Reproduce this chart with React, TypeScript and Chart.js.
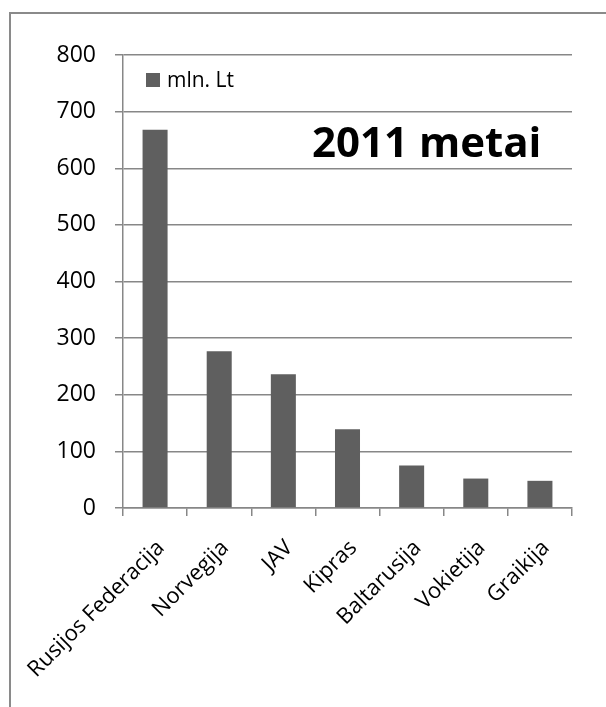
import React, { useEffect, useRef } from "react";
import { Chart, registerables } from "chart.js";

Chart.register(...registerables);

const categories = [
  "Rusijos Federacija",
  "Norvegija",
  "JAV",
  "Kipras",
  "Baltarusija",
  "Vokietija",
  "Graikija",
];
const values = [668, 277, 236, 139, 75, 52, 48];
const seriesLabel = "mln. Lt";
const chartTitle = "2011 metai";
const yMin = 0;
const yMax = 800;
const yStep = 100;

const FONT = "'Open Sans', sans-serif";
const GRID = "#878787";
const BAR = "#5f5f5f";

const overlayPlugin = {
  id: "overlay",
  beforeDraw(chart: any) {
    const ctx = chart.ctx;
    ctx.save();
    ctx.fillStyle = "#ffffff";
    ctx.fillRect(0, 0, chart.width, chart.height);
    ctx.strokeStyle = "#8a8a8a";
    ctx.lineWidth = 2;
    ctx.beginPath();
    ctx.moveTo(10, chart.height + 5);
    ctx.lineTo(10, 13);
    ctx.lineTo(chart.width + 5, 13);
    ctx.stroke();
    ctx.restore();
  },
  afterDraw(chart: any) {
    const ctx = chart.ctx;
    const area = chart.chartArea;
    ctx.save();
    // legend
    const lx = area.left + 23;
    const ly = area.top + 25;
    ctx.fillStyle = BAR;
    ctx.fillRect(lx, ly - 7, 14, 14);
    ctx.fillStyle = "#000000";
    ctx.font = `21px ${FONT}`;
    ctx.textBaseline = "middle";
    ctx.textAlign = "left";
    ctx.fillText(chart.data.datasets[0].label, lx + 21, ly + 1);
    // title
    ctx.font = `bold 42px ${FONT}`;
    ctx.textAlign = "left";
    ctx.textBaseline = "alphabetic";
    ctx.fillText(chartTitle, 312, 157);
    ctx.restore();
  },
};

export default function App() {
  const ref = useRef<HTMLCanvasElement>(null);
  useEffect(() => {
    if (!ref.current) return;
    const chart = new Chart(ref.current, {
      type: "bar",
      data: {
        labels: categories,
        datasets: [
          {
            label: seriesLabel,
            data: values,
            backgroundColor: BAR,
            borderWidth: 0,
            barPercentage: 0.39,
            categoryPercentage: 1,
          },
        ],
      },
      plugins: [overlayPlugin],
      options: {
        responsive: false,
        animation: false,
        layout: { padding: { left: 0, top: 55, right: 34, bottom: 0 } },
        plugins: {
          legend: { display: false },
          title: { display: false },
          tooltip: { enabled: false },
        },
        scales: {
          x: {
            afterFit(scale: any) {
              scale.height = 199;
              scale.paddingLeft = 0;
              scale.paddingRight = 0;
            },
            grid: {
              display: true,
              drawOnChartArea: false,
              drawTicks: true,
              tickLength: 8,
              color: GRID,
              lineWidth: 1.5,
              offset: true,
            },
            border: { display: true, color: GRID, width: 1.5 },
            ticks: {
              color: "#000000",
              font: { family: FONT, size: 22 },
              maxRotation: 45,
              minRotation: 45,
              autoSkip: false,
              padding: 19,
              labelOffset: 6,
            },
          },
          y: {
            min: yMin,
            max: yMax,
            afterFit(scale: any) {
              scale.width = 123;
              scale.paddingTop = 0;
              scale.paddingBottom = 0;
            },
            grid: {
              color: GRID,
              lineWidth: 1.5,
              drawTicks: true,
              tickLength: 8,
            },
            border: { display: true, color: GRID, width: 1.5 },
            ticks: {
              stepSize: yStep,
              color: "#000000",
              font: { family: FONT, size: 23 },
              padding: 19,
            },
          },
        },
      },
    });
    return () => chart.destroy();
  }, []);
  return (
    <div style={{ position: "fixed", left: 0, top: 0, width: 606, height: 707 }}>
      <canvas ref={ref} width={606} height={707} />
    </div>
  );
}
